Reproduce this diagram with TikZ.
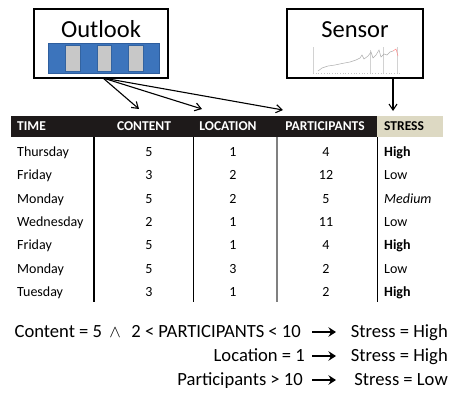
\documentclass[tikz,border=0pt]{standalone}
\usepackage{fontspec}
\setmainfont{Carlito}
\usetikzlibrary{arrows.meta}
\definecolor{obar}{HTML}{3C74BC}
\definecolor{obarline}{HTML}{2E5E9E}
\definecolor{ogray}{HTML}{C8C8C8}
\definecolor{tanhead}{HTML}{DDD9C3}
\definecolor{headbg}{HTML}{1E1A1A}
\begin{document}
\begin{tikzpicture}[x=1pt,y=-1pt,
  srcbox/.style={draw=black, line width=1.6pt, inner sep=0pt, minimum width=134pt, minimum height=69pt},
  title/.style={inner sep=0pt, text height=15.5pt, text depth=0pt, font=\fontsize{24.5}{26}\selectfont},
  cell/.style={inner sep=0pt, text height=9pt, text depth=0pt, font=\fontsize{14}{16}\selectfont},
  head/.style={inner sep=0pt, text height=8.7pt, text depth=0pt, font=\fontsize{13.5}{16}\selectfont\bfseries},
  rulet/.style={inner sep=0pt, text height=11.9pt, text depth=0pt, font=\fontsize{18.6}{20}\selectfont, anchor=east},
  feed/.style={line width=1.1pt, -{Straight Barb[length=6pt,width=8pt]}},
  implies/.style={line width=1.7pt, -{Stealth[length=7.5pt,width=9.5pt,inset=2.5pt]}}]
\useasboundingbox (0,0) rectangle (453,405);

% ---- source boxes ----
\node[srcbox] (outlook) at (101,43.5) {};
\node[title] (outlooklabel) at (101,29.5) {Outlook};
\node[srcbox, minimum width=136pt] (sensor) at (355,43.5) {};
\node[title] (sensorlabel) at (355,30) {Sensor};

% calendar strip
\fill[obar] (48,43) rectangle (159,73);
\draw[obarline, line width=0.5pt] (48,43) rectangle (159,73);
\foreach \a/\b in {65.5/80, 97/111, 128/143}
  \draw[obar!85!black, line width=0.6pt, fill=ogray] (\a,44.8) rectangle (\b,71.5);

% faint sensor trace
\draw[gray!45, dotted, line width=0.7pt] (313,73) -- (401,73);
\draw[gray!35, line width=0.4pt] (313,47) -- (313,73);
\draw[gray!35, line width=0.4pt] (397,47) -- (397,73);
\draw[gray!35, line width=0.3pt] (370,50) -- (370,73);
\draw[gray!35, line width=0.3pt] (383,47) -- (383,73);
\draw[gray!65, line width=0.5pt] (318,71) -- (322,68) -- (328,66) -- (335,65) -- (342,63.5)
  -- (350,62) -- (356,60) -- (360,58) -- (362,55) -- (364,59) -- (368,56) -- (371,52)
  -- (373,58) -- (376,55) -- (379,50) -- (381,57) -- (384,54) -- (387,55) -- (390,52) -- (393,51);
\draw[red!45, line width=0.5pt] (393,51) -- (396,49) -- (398,56);

% ---- table ----
\fill[headbg] (11,116) rectangle (377,137);
\fill[tanhead] (377,116) rectangle (443,137);
\node[head, white, anchor=west] (hTime) at (17,126.5) {TIME};
\node[head, white] (hContent) at (144,126.5) {CONTENT};
\node[head, white] (hLocation) at (228,126.5) {LOCATION};
\node[head, white] (hPart) at (325,126.5) {PARTICIPANTS};
\node[head, anchor=west] (hStress) at (384,126.5) {STRESS};

\draw[black, line width=2pt] (94,137) -- (94,302);
\draw[black, line width=1pt] (193,137) -- (193,302);
\draw[gray, line width=1.4pt] (277,137) -- (277,302);
\draw[black, line width=1pt] (377,137) -- (377,302);

\foreach \t/\c/\l/\p/\s [count=\i from 0] in {
  Thursday/5/1/4/\textbf{High},
  Friday/3/2/12/Low,
  Monday/5/2/5/\textit{Medium},
  Wednesday/2/1/11/Low,
  Friday/5/1/4/\textbf{High},
  Monday/5/3/2/Low,
  Tuesday/3/1/2/\textbf{High}}{
  \pgfmathsetmacro{\yy}{152+23.3*\i}
  \node[cell, anchor=west] (t\i) at (17,\yy) {\t};
  \node[cell] (c\i) at (149,\yy) {\c};
  \node[cell] (l\i) at (233,\yy) {\l};
  \node[cell] (p\i) at (326,\yy) {\p};
  \node[cell, anchor=west] (s\i) at (384,\yy) {\s};
}

% ---- feeds into the table ----
\coordinate (outlookfoot) at (103,78);
\coordinate (toContent) at (139,109);
\coordinate (toLocation) at (202,109);
\coordinate (toPart) at (283,110);
\coordinate (sensorfoot) at (393,78);
\coordinate (toStress) at (393,111);
\draw[feed] (outlookfoot) -- (toContent);
\draw[feed] (outlookfoot) -- (toLocation);
\draw[feed] (outlookfoot) -- (toPart);
\draw[feed] (sensorfoot) -- (toStress);

% ---- derived rules ----
\node[rulet] (r1l) at (301,332) {Content = 5 \,$\wedge$\,\, 2 < PARTICIPANTS < 10};
\node[rulet] (r1r) at (448,332) {Stress = High};
\node[rulet] (r2l) at (305,356) {Location = 1};
\node[rulet] (r2r) at (448,356) {Stress = High};
\node[rulet] (r3l) at (303,380) {Participants > 10};
\node[rulet] (r3r) at (448,380) {Stress = Low};
\draw[implies] ([xshift=11pt]r1l.east) -- ([xshift=35pt]r1l.east);
\draw[implies] ([xshift=7pt]r2l.east) -- ([xshift=31pt]r2l.east);
\draw[implies] ([xshift=9pt]r3l.east) -- ([xshift=33pt]r3l.east);
\end{tikzpicture}
\end{document}
